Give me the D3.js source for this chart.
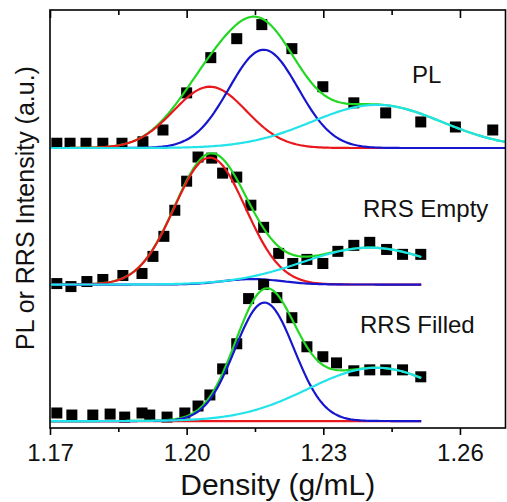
<!DOCTYPE html>
<html>
<head>
<meta charset="utf-8">
<script src="https://cdn.jsdelivr.net/npm/d3@7"></script>
<style>
  body { margin: 0; background: #fff; }
  text { font-family: "Liberation Sans", Arial, sans-serif; fill: #111; }
</style>
</head>
<body>
<svg class="chart_svg"></svg>
<script>
// Measured points (density in g/mL, intensity in a.u., each panel normalised)
const plDensity = [1.1715, 1.1744, 1.1779, 1.1816, 1.1858, 1.1904, 1.1948, 1.2000, 1.2053,
  1.2110, 1.2165, 1.2231, 1.2299, 1.2367, 1.2437, 1.2514, 1.2590, 1.2672];
const plValue = [0.035, 0.035, 0.035, 0.035, 0.035, 0.046, 0.132, 0.404, 0.662,
  0.801, 0.904, 0.728, 0.449, 0.331, 0.257, 0.191, 0.154, 0.132];

const emptyDensity = [1.1715, 1.1746, 1.1781, 1.1816, 1.1860, 1.1902, 1.1926, 1.1950, 1.1974,
  1.2000, 1.2025, 1.2055, 1.2079, 1.2110, 1.2141, 1.2169, 1.2202, 1.2233, 1.2264, 1.2299,
  1.2332, 1.2367, 1.2402, 1.2439, 1.2474, 1.2514];
const emptyValue = [0.007, -0.015, 0.022, 0.037, 0.066, 0.081, 0.206, 0.353, 0.544,
  0.757, 0.934, 0.926, 0.816, 0.787, 0.581, 0.419, 0.228, 0.154, 0.184, 0.154,
  0.243, 0.287, 0.309, 0.257, 0.221, 0.221];

const filledDensity = [1.1715, 1.1748, 1.1794, 1.1832, 1.1864, 1.1902, 1.1919, 1.1957, 1.1996,
  1.2025, 1.2051, 1.2079, 1.2110, 1.2136, 1.2169, 1.2198, 1.2231, 1.2264, 1.2299,
  1.2329, 1.2367, 1.2402, 1.2437, 1.2474, 1.2514];
const filledValue = [0.059, 0.044, 0.044, 0.051, 0.029, 0.059, 0.044, 0.029, 0.059,
  0.110, 0.191, 0.382, 0.566, 0.897, 1.000, 0.904, 0.757, 0.544, 0.471,
  0.426, 0.368, 0.375, 0.375, 0.375, 0.324];

// Gaussian fit peaks, order: red, blue, cyan
const plCenter = [1.2051, 1.2169, 1.2417];
const plSigma = [0.0080, 0.0076, 0.0143];
const plAmp = [0.449, 0.720, 0.316];

const emptyCenter = [1.2051, 1.2145, 1.2402];
const emptySigma = [0.0078, 0.0065, 0.0148];
const emptyAmp = [0.930, 0.040, 0.270];

const filledCenter = [1.2050, 1.2171, 1.2417];
const filledSigma = [0.0080, 0.0065, 0.0150];
const filledAmp = [0.000, 0.868, 0.390];

const panelNames = ["PL", "RRS Empty", "RRS Filled"];
const panelOffset = [2, 1, 0];
const fitEnd = [1.27, 1.2515, 1.2515];

const xTicks = [1.17, 1.20, 1.23, 1.26];
const xMinorTicks = [1.185, 1.215, 1.245];

const width = 507, height = 502;
const margin = { top: 10, right: 1.5, bottom: 74, left: 50 };

const svg = d3.select(".chart_svg")
  .attr("width", width)
  .attr("height", height);

const x = d3.scaleLinear()
  .domain([1.17, 1.27])
  .range([margin.left, width - margin.right]);

const y = d3.scaleLinear()
  .domain([-0.051, 3.011])
  .range([height - margin.bottom, margin.top]);

const panels = [
  { name: panelNames[0], dens: plDensity, val: plValue, c: plCenter, s: plSigma, a: plAmp },
  { name: panelNames[1], dens: emptyDensity, val: emptyValue, c: emptyCenter, s: emptySigma, a: emptyAmp },
  { name: panelNames[2], dens: filledDensity, val: filledValue, c: filledCenter, s: filledSigma, a: filledAmp }
];

const colors = ["#e8181c", "#1616cc", "#22e2ea"];
const sumColor = "#22d822";

const line = d3.line()
  .x(d => x(d[0]))
  .y(d => y(d[1]));

const plot = svg.append("g");

panels.forEach((p, i) => {
  const off = panelOffset[i];
  const xs = d3.range(1.17, fitEnd[i] + 1e-9, 0.0005);
  const peak = (k, d) => p.a[k] * Math.exp(-((d - p.c[k]) ** 2) / (2 * p.s[k] ** 2));

  // data squares
  plot.append("g")
    .selectAll("rect")
    .data(p.dens.map((d, j) => [d, p.val[j] + off]))
    .join("rect")
    .attr("x", d => x(d[0]) - 5.5)
    .attr("y", d => y(d[1]) - 5.5)
    .attr("width", 11)
    .attr("height", 11)
    .attr("fill", "#000");

  // cumulative fit (green), then components
  plot.append("path")
    .attr("d", line(xs.map(d => [d, off + peak(0, d) + peak(1, d) + peak(2, d)])))
    .attr("fill", "none")
    .attr("stroke", sumColor)
    .attr("stroke-width", 2.2);

  [0, 1, 2].forEach(k => {
    plot.append("path")
      .attr("d", line(xs.map(d => [d, off + peak(k, d)])))
      .attr("fill", "none")
      .attr("stroke", colors[k])
      .attr("stroke-width", 2.2);
  });
});

// panel labels
const labelPos = [[412, 83], [363, 217], [360, 333]];
svg.selectAll(".panel_label")
  .data(panelNames)
  .join("text")
  .attr("class", "panel_label")
  .attr("x", (d, i) => labelPos[i][0])
  .attr("y", (d, i) => labelPos[i][1])
  .style("font-size", "24px")
  .text(d => d);

// frame
svg.append("rect")
  .attr("x", margin.left)
  .attr("y", margin.top)
  .attr("width", width - margin.right - margin.left)
  .attr("height", height - margin.bottom - margin.top)
  .attr("fill", "none")
  .attr("stroke", "#000")
  .attr("stroke-width", 1.6);

// bottom axis, ticks outward
const bottom = height - margin.bottom;
svg.append("g")
  .attr("transform", `translate(0,${bottom})`)
  .call(d3.axisBottom(x).tickValues(xTicks).tickSize(7).tickFormat(d3.format(".2f")))
  .call(g => g.select(".domain").remove())
  .call(g => g.selectAll("line").attr("stroke-width", 1.6))
  .call(g => g.selectAll("text").attr("dy", 0).attr("y", 33).style("font-size", "24px").attr("fill", "#111"));

svg.append("g")
  .attr("transform", `translate(0,${bottom})`)
  .call(d3.axisBottom(x).tickValues(xMinorTicks).tickSize(4).tickFormat(""))
  .call(g => g.select(".domain").remove())
  .call(g => g.selectAll("line").attr("stroke-width", 1.6));

// top axis, ticks inward
svg.append("g")
  .attr("transform", `translate(0,${margin.top})`)
  .call(d3.axisBottom(x).tickValues(xTicks).tickSize(8).tickFormat(""))
  .call(g => g.select(".domain").remove())
  .call(g => g.selectAll("line").attr("stroke-width", 1.6));

svg.append("g")
  .attr("transform", `translate(0,${margin.top})`)
  .call(d3.axisBottom(x).tickValues(xMinorTicks).tickSize(5).tickFormat(""))
  .call(g => g.select(".domain").remove())
  .call(g => g.selectAll("line").attr("stroke-width", 1.6));

// axis titles
svg.append("text")
  .attr("x", (margin.left + width - margin.right) / 2)
  .attr("y", 495)
  .attr("text-anchor", "middle")
  .style("font-size", "30px")
  .text("Density (g/mL)");

svg.append("text")
  .attr("transform", "rotate(-90)")
  .attr("x", -208)
  .attr("y", 34)
  .attr("text-anchor", "middle")
  .style("font-size", "25px")
  .text("PL or RRS Intensity (a.u.)");
</script>
</body>
</html>
